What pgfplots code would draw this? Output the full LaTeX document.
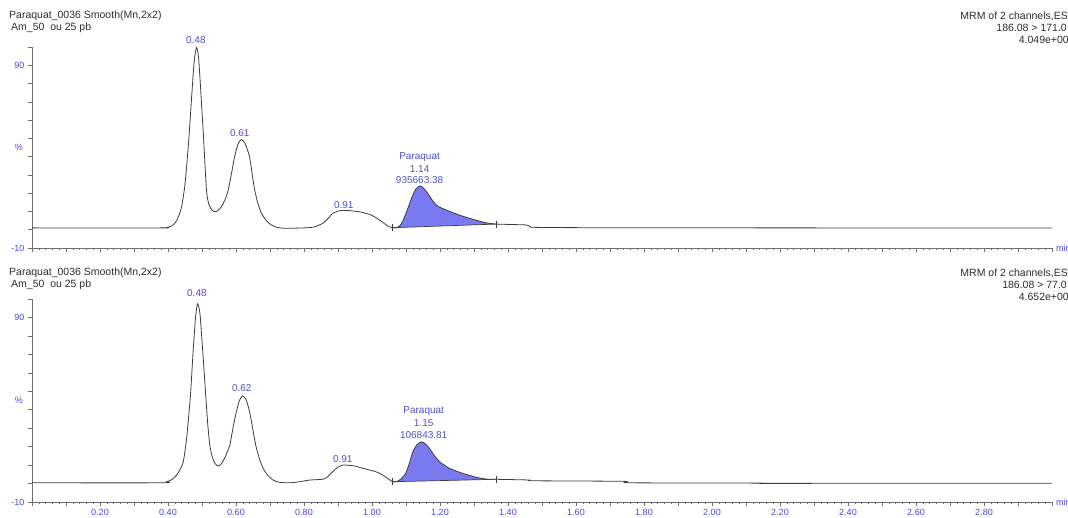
\documentclass[border=0pt]{standalone}
\usepackage{fontspec}
\setmainfont{Liberation Sans}
\usepackage{pgfplots}
\pgfplotsset{compat=1.18}
\usepackage{pgfplotstable}
\definecolor{tickblue}{RGB}{70,70,230}
\definecolor{peakblue}{RGB}{80,80,200}
\definecolor{fillblue}{RGB}{122,122,240}
\definecolor{curvecol}{RGB}{60,60,60}
\definecolor{txt}{RGB}{45,45,45}
\definecolor{axgray}{RGB}{110,110,110}
\tikzset{peak/.style={font=\fontsize{10}{11}\selectfont, text=peakblue, inner sep=0pt}}

\pgfplotstableread{
x y
0.000 1.0
0.380 1.0
0.396 1.2
0.410 2.0
0.420 3.5
0.430 6.8
0.440 12.6
0.450 25
0.461 49
0.470 74
0.477 92
0.484 99.7
0.490 94
0.497 74
0.505 49
0.513 22
0.520 14
0.530 10.6
0.540 9.8
0.550 11
0.560 13.5
0.570 17.5
0.577 21.7
0.586 30
0.596 40
0.606 47
0.616 49.4
0.626 47.5
0.633 44
0.640 39.9
0.648 30
0.655 21.7
0.665 14
0.675 9
0.690 4.8
0.704 2.6
0.720 1.3
0.740 0.8
0.760 0.8
0.800 1.0
0.830 1.5
0.855 3.5
0.870 6
0.885 9
0.905 10.4
0.930 10.5
0.964 9.8
0.985 8.8
0.998 8
1.010 6.8
1.022 5.3
1.035 3.6
1.047 2
1.060 1.1
1.070 1.0
1.081 2
1.090 4.5
1.100 9
1.110 14
1.120 19
1.130 22.5
1.142 24
1.153 22.5
1.164 19.9
1.176 16.5
1.189 13.5
1.203 12
1.218 10.8
1.237 9.4
1.257 8
1.277 6.8
1.297 5.7
1.316 4.7
1.336 3.8
1.350 3.4
1.365 3.1
1.400 2.9
1.453 2.6
1.465 1.8
1.480 1.3
1.700 1.1
3.000 0.9
}\topcurve

\pgfplotstableread{
x y
0.000 0.4
0.380 0.4
0.396 1.0
0.410 2.0
0.425 4.5
0.435 7.5
0.445 11.8
0.455 25
0.466 47.8
0.474 72
0.481 90
0.487 97.4
0.494 92
0.502 72
0.511 47.8
0.517 32
0.523 20.8
0.530 14.5
0.538 11
0.547 9.5
0.556 10.5
0.566 13.5
0.575 17.5
0.582 20.8
0.591 30
0.601 38.8
0.610 45
0.619 47.5
0.628 46
0.634 43
0.640 38.8
0.649 30
0.658 20.8
0.668 14
0.680 8.2
0.694 4.3
0.709 1.9
0.725 0.8
0.748 0.4
0.765 0.5
0.787 1.0
0.817 1.9
0.855 2.3
0.866 3.2
0.875 4.6
0.888 7
0.899 8.8
0.914 10
0.930 9.9
0.949 9.5
0.970 8.4
0.993 7.3
1.010 6.5
1.022 5.5
1.035 4.2
1.046 2.8
1.060 1.0
1.070 0.9
1.081 1.9
1.090 3.3
1.099 5.5
1.110 11
1.120 17.2
1.132 21
1.145 22.6
1.157 21.5
1.169 19
1.184 15
1.199 11.8
1.214 9.8
1.228 8.2
1.247 6.8
1.267 5.5
1.287 4.4
1.306 3.4
1.320 2.9
1.336 2.4
1.350 2.35
1.365 2.3
1.420 2.1
1.465 1.9
1.475 1.5
1.740 1.2
1.760 0.4
2.140 0.3
2.160 0.1
3.000 0.2
}\botcurve

\pgfplotsset{chrom/.style={
  scale only axis, width=1020pt, height=201pt,
  xmin=0, xmax=3.0, ymin=-10, ymax=100,
  axis lines*=left, axis line style={axgray, line width=0.8pt},
  tick align=outside, tick style={axgray, line width=0.6pt},
  major tick length=4pt, minor tick length=2pt,
  xtick={0,0.2,0.4,0.6,0.8,1.0,1.2,1.4,1.6,1.8,2.0,2.2,2.4,2.6,2.8,3.0},
  minor x tick num=9,
  extra x ticks={0.1,0.3,0.5,0.7,0.9,1.1,1.3,1.5,1.7,1.9,2.1,2.3,2.5,2.7,2.9},
  extra x tick labels={},
  ytick={-10,90}, yticklabels={-10,90},
  extra y ticks={0,10,20,30,40,50,60,70,80,100}, extra y tick labels={},
  yticklabel style={font=\fontsize{9}{10}\selectfont, text=tickblue},
  xticklabel style={font=\fontsize{9}{10}\selectfont, text=tickblue},
  clip=false,
}}

\begin{document}
\begin{tikzpicture}
\useasboundingbox (0,0) rectangle (1068pt,517pt);
\clip (0,0) rectangle (1068pt,517pt);

% ---------- top panel ----------
\begin{axis}[chrom, at={(32pt,269pt)}, anchor=south west, xticklabels={}]
\addplot[draw=none, fill=fillblue] coordinates {(1.060,1.1)(1.070,1.0)(1.081,2)(1.090,4.5)(1.100,9)(1.110,14)(1.120,19)(1.130,22.5)(1.142,24)(1.153,22.5)(1.164,19.9)(1.176,16.5)(1.189,13.5)(1.203,12)(1.218,10.8)(1.237,9.4)(1.257,8)(1.277,6.8)(1.297,5.7)(1.316,4.7)(1.336,3.8)(1.350,3.4)(1.365,3.1)};
\addplot[curvecol, line width=0.8pt, smooth, tension=0.4] table {\topcurve};
\addplot[curvecol, line width=0.7pt] coordinates {(1.060,1.1)(1.365,3.1)};
\addplot[curvecol, only marks, mark=|, mark size=3.5pt, mark options={line width=0.7pt}] coordinates {(1.060,1.1)(1.365,3.1)};
\node[peak] at (axis cs:0.482,103.7) {0.48};
\node[peak] at (axis cs:0.611,52.8) {0.61};
\node[peak] at (axis cs:0.917,13.5) {0.91};
\node[peak] at (axis cs:1.140,39.7) {Paraquat};
\node[peak] at (axis cs:1.140,33.2) {1.14};
\node[peak] at (axis cs:1.140,27.2) {935663.38};
\node[font=\fontsize{9}{10}\selectfont, text=tickblue, xshift=-13pt] at (axis cs:0,45) {\%};
\end{axis}

% ---------- bottom panel ----------
\begin{axis}[chrom, at={(32pt,15pt)}, anchor=south west, height=203pt,
  xticklabels={{},0.20,0.40,0.60,0.80,1.00,1.20,1.40,1.60,1.80,2.00,2.20,2.40,2.60,2.80,{}}]
\addplot[draw=none, fill=fillblue] coordinates {(1.060,1.0)(1.070,0.9)(1.081,1.9)(1.090,3.3)(1.099,5.5)(1.110,11)(1.120,17.2)(1.132,21)(1.145,22.6)(1.157,21.5)(1.169,19)(1.184,15)(1.199,11.8)(1.214,9.8)(1.228,8.2)(1.247,6.8)(1.267,5.5)(1.287,4.4)(1.306,3.4)(1.320,2.9)(1.336,2.4)(1.350,2.35)(1.365,2.3)};
\addplot[curvecol, line width=0.8pt, smooth, tension=0.4] table {\botcurve};
\addplot[curvecol, line width=0.7pt] coordinates {(1.060,1.0)(1.365,2.3)};
\addplot[curvecol, only marks, mark=|, mark size=3.5pt, mark options={line width=0.7pt}] coordinates {(1.060,1.0)(1.365,2.3)};
\node[peak] at (axis cs:0.485,103) {0.48};
\node[peak] at (axis cs:0.617,51.6) {0.62};
\node[peak] at (axis cs:0.914,13.2) {0.91};
\node[peak] at (axis cs:1.152,39.2) {Paraquat};
\node[peak] at (axis cs:1.152,32.7) {1.15};
\node[peak] at (axis cs:1.152,26.2) {106843.81};
\node[font=\fontsize{9}{10}\selectfont, text=tickblue, xshift=-13pt] at (axis cs:0,45) {\%};
\end{axis}

% ---------- header texts ----------
\begin{scope}[every node/.style={inner sep=0pt, text=txt, font=\fontsize{10.5}{12}\selectfont}]
\node[anchor=west] at (9pt,501pt) {Paraquat\_0036 Smooth(Mn,2x2)};
\node[anchor=west] at (11pt,489pt) {Am\_50\ \ ou 25 pb};
\node[anchor=east] at (1068pt,501pt) {MRM of 2 channels,ES};
\node[anchor=east] at (1067pt,489pt) {186.08 > 171.0};
\node[anchor=east] at (1069pt,477pt) {4.049e+00};
\node[anchor=west] at (9pt,244pt) {Paraquat\_0036 Smooth(Mn,2x2)};
\node[anchor=west] at (11pt,232pt) {Am\_50\ \ ou 25 pb};
\node[anchor=east] at (1068pt,244pt) {MRM of 2 channels,ES};
\node[anchor=east] at (1067pt,232pt) {186.08 > 77.0};
\node[anchor=east] at (1069pt,220pt) {4.652e+00};
\node[anchor=west, text=tickblue, font=\fontsize{9}{10}\selectfont] at (1056pt,269pt) {min};
\node[anchor=west, text=tickblue, font=\fontsize{9}{10}\selectfont] at (1056pt,15pt) {min};
\end{scope}
\end{tikzpicture}
\end{document}
